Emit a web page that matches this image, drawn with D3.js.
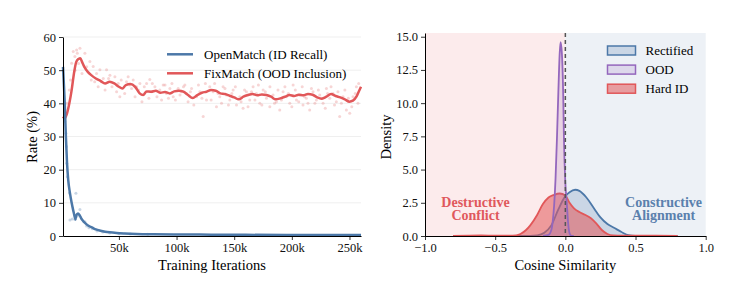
<!DOCTYPE html>
<html>
<head>
<meta charset="utf-8">
<script src="https://cdn.jsdelivr.net/npm/d3@7"></script>
<style>
body { margin: 0; background: #fff; }
text { font-family: "Liberation Serif", "Times New Roman", serif; }
</style>
</head>
<body>
<svg id="chart" width="740" height="290"></svg>
<script>
// ---- left panel: training curves (iterations in k) ----
var openLine = [[1.5,51],[3,40],[4,30],[5,22],[6,17],[7.5,13],[9,10],[10.5,7.5],[11.5,6],[12.3,5],[13,6.2],[14.5,6.8],[16,6.2],[17.5,5.2],[19,4.5],[21,3.8],[24,3],[27,2.5],[30,2],[34,1.6],[38,1.3],[42,1.1],[48,0.9],[55,0.75],[65,0.6],[80,0.5],[100,0.45],[130,0.4],[160,0.35],[200,0.3],[260,0.3]];
var openDots = [[3,34.5],[4,31],[4.5,27],[4.7,21.9],[5.2,17.9],[7,13],[12.7,12.9],[7.5,4.8],[9.5,5.1],[11.9,5],[16.2,8],[14,6],[20.5,4.3],[22,3],[24,2.5],[27,2.2],[31,1.5],[36,1.2],[42,0.9],[50,0.7],[60,0.6],[75,0.5]];
var fixLine = [[1.5,36],[3,35.5],[5,37],[7,40],[9,44],[11,49],[13,52.5],[15,53.4],[16.5,53.6],[18,52.5],[20,51],[23,49.5],[26,48.5],[30,47.5],[34,46.8],[38,46],[42,46.5],[46,46],[50,45],[53,44.5],[56,45.5],[60,45.8],[64,45],[68,43],[71,42.5],[74,43.6],[78,43.5],[82,43.8],[86,43.2],[90,43.4],[94,43],[98,43.6],[102,43.8],[106,43.5],[110,42.5],[114,41.6],[118,42.5],[122,43.2],[126,43.5],[130,44],[134,43.8],[138,43],[142,42.8],[146,42.3],[150,41.8],[154,41.2],[158,42],[162,42.5],[166,42.8],[170,42.4],[174,42.7],[178,42.5],[182,42],[186,41.2],[190,41.5],[194,42],[198,42.5],[202,42.2],[206,42.6],[210,42.4],[214,42.8],[218,42.6],[222,41.8],[226,41.4],[230,42],[234,42.8],[238,42.2],[242,41.8],[246,41.2],[250,40.5],[253,40.8],[256,42],[258,43.5],[260,45]];
var fixDots = [[10.4,55.6],[13.3,56.1],[16.2,56.6],[9,52.1],[11.8,54.1],[13.9,55.1],[20.5,55.1],[24.8,52.6],[27.7,51.1],[30.6,49],[33.5,50.1],[36.4,47.5],[39.3,50.1],[42.2,48.5],[46.5,48],[49.4,46],[50.8,42],[56.6,46.5],[59.5,45.5],[62.4,47],[65.3,45],[68.2,46],[74,46],[76.8,47.2],[78.3,43.5],[81.2,45],[85.5,44],[88.4,45.5],[91.3,43],[94.2,44.5],[97.1,42],[101.4,44.5],[104.3,43.5],[107.2,45.5],[108.6,43],[113,44.5],[117.3,42],[120.2,43.5],[123.1,36],[126,41],[128.8,45],[131.7,43.5],[134.6,39],[137.5,42],[140.4,45],[143.3,42.5],[146.2,41],[149.1,44],[152,39.5],[154.9,42],[157.7,38.5],[160.6,43.5],[163.5,41],[166.4,45],[169.3,43],[172.2,40],[175.1,44],[178,41.5],[180.9,39],[183.7,42.5],[186.6,40.5],[189.5,38],[192.4,43.5],[195.3,42],[198.2,40],[201.1,45.5],[204,41],[206.9,42.5],[209.7,39.5],[212.6,41.5],[215.5,38],[218.4,43.5],[221.3,41],[224.2,42.5],[227.1,40],[230,44.5],[232.9,41.5],[235.7,43],[238.6,40.5],[241.5,36],[244.4,42],[247.3,38],[250.2,37],[253.1,42],[256,45],[257.4,40],
  [5,40],[7,44],[8,47],[12,50],[15,52],[18,49],[22,51],[26,47],[29,46.5],[32,45],[35,46.5],[38,44],[41,47.5],[44,45],[48,43.5],[52,47],[55,43],[58,48],[61,44.5],[64,42],[67,44],[70,40.5],[72,45],[76,41.5],[79,46],[83,42],[87,41],[90,45.5],[93,41.5],[96,46],[99,41],[103,42.5],[106,45],[110,40.5],[112,43.5],[115,39.5],[119,45.5],[122,41.5],[125,46],[130,41],[133,46],[136,43],[139,40],[142,44.5],[145,39.5],[148,43],[151,45],[156,40.5],[159,44],[162,39],[165,43.5],[168,41],[171,45.5],[174,39.5],[177,43.5],[181,45],[185,40],[188,44],[191,41],[194,45],[197,43],[200,39],[203,44],[206,40.5],[209,45],[211,42],[214,40],[217,44.5],[220,40],[223,44],[226,41.5],[229,38.5],[231,43],[234,45],[237,39.5],[240,43.5],[243,40],[246,44],[249,41.5],[252,39],[255,43],[258,46]];
var iterTicks = [50, 100, 150, 200, 250];
var rateTicks = [0, 10, 20, 30, 40, 50, 60];
var leftLegend = ['OpenMatch (ID Recall)', 'FixMatch (OOD Inclusion)'];

// ---- right panel: cosine similarity densities ----
var rectX = [-0.8,-0.4,-0.25,-0.2,-0.15,-0.1,-0.05,0,0.03,0.07,0.1,0.15,0.2,0.25,0.3,0.35,0.4,0.45,0.5,0.8];
var rectY = [0,0,0.01,0.05,0.25,0.8,2.0,3.0,3.3,3.48,3.4,2.9,2.15,1.4,0.9,0.6,0.3,0.06,0.01,0];
var oodX = [-0.16,-0.12,-0.1,-0.09,-0.08,-0.07,-0.06,-0.05,-0.04,-0.034,-0.025,-0.015,-0.01,0,0.01,0.02,0.03,0.04,0.06];
var oodY = [0,0.08,0.45,1.1,2.3,4.3,7.3,10.8,13.8,14.6,13.8,10.5,7.3,4.0,2.5,0.95,0.2,0.02,0];
var hardX = [-0.8,-0.6,-0.5,-0.4,-0.35,-0.32,-0.28,-0.25,-0.2,-0.16,-0.12,-0.08,-0.04,0,0.03,0.06,0.1,0.14,0.18,0.22,0.26,0.3,0.34,0.4,0.6,0.8];
var hardY = [0,0.04,0.02,0.02,0.05,0.15,0.45,0.8,1.6,2.4,2.9,3.1,3.2,3.05,2.5,2.1,1.8,1.6,1.35,0.95,0.45,0.15,0.04,0.02,0.02,0];
var cosTicks = [-1, -0.5, 0, 0.5, 1];
var densTicks = [0, 2.5, 5, 7.5, 10, 12.5, 15];
var rightLegend = ['Rectified', 'OOD', 'Hard ID'];

var BLUE = '#4c78a8', RED = '#e15759', PURPLE = '#9467bd';

var svg = d3.select('#chart');
svg.append('rect').attr('width', 740).attr('height', 290).attr('fill', '#fff');

// LEFT PLOT

var x = d3.scaleLinear().domain([1.5, 260]).range([63, 361]);
var y = d3.scaleLinear().domain([0, 60]).range([236, 37]);

var left = svg.append('g');

left.selectAll('.grid')
    .data(rateTicks.slice(1))
    .enter().append('line')
    .attr('x1', 63).attr('x2', 361)
    .attr('y1', function(d) { return y(d); })
    .attr('y2', function(d) { return y(d); })
    .attr('stroke', '#ebebeb').attr('stroke-width', 0.8);

left.selectAll('.fdot')
    .data(fixDots)
    .enter().append('circle')
    .attr('cx', function(d) { return x(d[0]); })
    .attr('cy', function(d) { return y(d[1]); })
    .attr('r', 1.5)
    .attr('fill', RED).attr('fill-opacity', 0.25);
left.selectAll('.odot')
    .data(openDots)
    .enter().append('circle')
    .attr('cx', function(d) { return x(d[0]); })
    .attr('cy', function(d) { return y(d[1]); })
    .attr('r', 1.5)
    .attr('fill', BLUE).attr('fill-opacity', 0.3);

var line = d3.line()
    .x(function(d) { return x(d[0]); })
    .y(function(d) { return y(d[1]); })
    .curve(d3.curveMonotoneX);

left.append('path').datum(fixLine)
    .attr('d', line).attr('fill', 'none')
    .attr('stroke', RED).attr('stroke-width', 2.5);
left.append('path').datum(openLine)
    .attr('d', line).attr('fill', 'none')
    .attr('stroke', BLUE).attr('stroke-width', 2.5);

function styleAxis(g) {
    g.selectAll('path').attr('stroke', '#000').attr('stroke-width', 1);
    g.selectAll('line').attr('stroke', '#000').attr('stroke-width', 0.8);
    g.selectAll('text').attr('font-size', 12.5).attr('fill', '#111')
        .style('font-family', '"Liberation Serif", serif');
}

left.append('g')
    .attr('transform', 'translate(0,236)')
    .call(d3.axisBottom(x).tickValues(iterTicks).tickSize(4).tickSizeOuter(0)
        .tickFormat(function(d) { return d + 'k'; }))
    .call(styleAxis);
left.append('g')
    .attr('transform', 'translate(63,0)')
    .call(d3.axisLeft(y).tickValues(rateTicks).tickSize(4).tickSizeOuter(0))
    .call(styleAxis);

left.append('text')
    .attr('x', 212).attr('y', 270)
    .attr('text-anchor', 'middle').attr('font-size', 14.5)
    .text('Training Iterations');
left.append('text')
    .attr('transform', 'translate(37,137) rotate(-90)')
    .attr('text-anchor', 'middle').attr('font-size', 14.5)
    .text('Rate (%)');

var lleg = left.selectAll('.lleg')
    .data(leftLegend)
    .enter().append('g')
    .attr('transform', function(d, i) { return 'translate(167,' + (54.3 + i * 19) + ')'; });
lleg.append('line')
    .attr('x1', 0).attr('x2', 26)
    .attr('stroke', function(d, i) { return i == 0 ? BLUE : RED; })
    .attr('stroke-width', 2.5);
lleg.append('text')
    .attr('x', 37).attr('dy', '0.35em')
    .attr('font-size', 13)
    .text(function(d) { return d; });

// RIGHT PLOT

var cx = d3.scaleLinear().domain([-1, 1]).range([425, 705.7]);
var cy = d3.scaleLinear().domain([0, 15.28]).range([236, 33]);

var right = svg.append('g');

right.append('rect')
    .attr('x', cx(-1)).attr('y', cy(15.28))
    .attr('width', cx(0) - cx(-1)).attr('height', cy(0) - cy(15.28))
    .attr('fill', '#fcebec');
right.append('rect')
    .attr('x', cx(0)).attr('y', cy(15.28))
    .attr('width', cx(1) - cx(0)).attr('height', cy(0) - cy(15.28))
    .attr('fill', '#edf1f6');

var area = d3.area()
    .x(function(d) { return cx(d[0]); })
    .y0(cy(0))
    .y1(function(d) { return cy(d[1]); })
    .curve(d3.curveMonotoneX);
var kline = d3.line()
    .x(function(d) { return cx(d[0]); })
    .y(function(d) { return cy(d[1]); })
    .curve(d3.curveMonotoneX);

var series = [
    {xs: rectX, ys: rectY, color: BLUE, op: 0.22},
    {xs: hardX, ys: hardY, color: RED, op: 0.55},
    {xs: oodX, ys: oodY, color: PURPLE, op: 0.18}
];
series.forEach(function(s) {
    var pts = d3.zip(s.xs, s.ys);
    right.append('path').datum(pts)
        .attr('d', area).attr('fill', s.color).attr('fill-opacity', s.op);
    right.append('path').datum(pts)
        .attr('d', kline).attr('fill', 'none')
        .attr('stroke', s.color).attr('stroke-width', 1.8);
});

right.append('line')
    .attr('x1', cx(0)).attr('x2', cx(0))
    .attr('y1', cy(15.28)).attr('y2', cy(0))
    .attr('stroke', '#555').attr('stroke-width', 1.5)
    .attr('stroke-dasharray', '4,3');

right.append('g')
    .attr('transform', 'translate(0,236)')
    .call(d3.axisBottom(cx).tickValues(cosTicks).tickSize(4).tickSizeOuter(0)
        .tickFormat(d3.format('.1f')))
    .call(styleAxis);
right.append('g')
    .attr('transform', 'translate(425,0)')
    .call(d3.axisLeft(cy).tickValues(densTicks).tickSize(4).tickSizeOuter(0)
        .tickFormat(d3.format('.1f')))
    .call(styleAxis);

right.append('text')
    .attr('x', cx(0)).attr('y', 270)
    .attr('text-anchor', 'middle').attr('font-size', 14.5)
    .text('Cosine Similarity');
right.append('text')
    .attr('transform', 'translate(391,137) rotate(-90)')
    .attr('text-anchor', 'middle').attr('font-size', 14.5)
    .text('Density');

var notes = [
    {lines: ['Destructive', 'Conflict'], x: -0.64, color: '#e0585c'},
    {lines: ['Constructive', 'Alignment'], x: 0.7, color: '#5a80ad'}
];
notes.forEach(function(n) {
    n.lines.forEach(function(t, i) {
        right.append('text')
            .attr('x', cx(n.x)).attr('y', 201.7 + i * 13.5)
            .attr('dy', '0.35em')
            .attr('text-anchor', 'middle')
            .attr('font-size', 14).attr('font-weight', 'bold')
            .attr('fill', n.color)
            .text(t);
    });
});

var rleg = right.selectAll('.rleg')
    .data(rightLegend)
    .enter().append('g')
    .attr('transform', function(d, i) { return 'translate(607.5,' + (50.5 + i * 19.1) + ')'; });
var legSeries = [series[0], series[2], series[1]];
rleg.append('rect')
    .attr('x', 0).attr('y', -4.5)
    .attr('width', 28).attr('height', 9)
    .attr('fill', function(d, i) { return legSeries[i].color; })
    .attr('fill-opacity', function(d, i) { return legSeries[i].op; })
    .attr('stroke', function(d, i) { return legSeries[i].color; })
    .attr('stroke-width', 1.5);
rleg.append('rect')
    .attr('x', 0).attr('y', -4.5)
    .attr('width', 28).attr('height', 9)
    .attr('fill', '#fff').attr('fill-opacity', 0)
    .attr('stroke', 'none');
rleg.append('text')
    .attr('x', 38).attr('dy', '0.35em')
    .attr('font-size', 13)
    .text(function(d) { return d; });
</script>
</body>
</html>
